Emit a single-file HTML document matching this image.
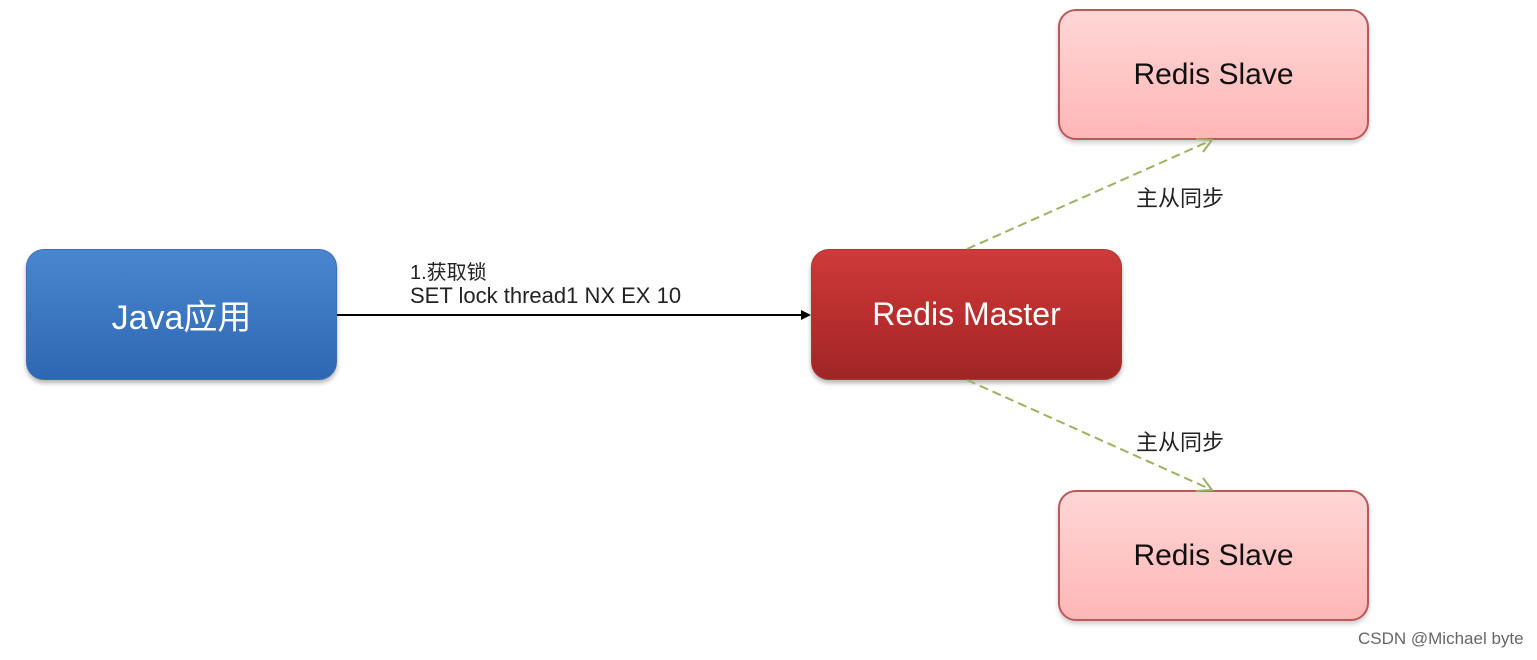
<!DOCTYPE html>
<html><head><meta charset="utf-8"><style>
html,body{margin:0;padding:0;background:#fff;}
body{width:1537px;height:660px;position:relative;overflow:hidden;font-family:"Liberation Sans","Noto Sans CJK SC",sans-serif;}
.box{position:absolute;border-radius:18px;display:flex;align-items:center;justify-content:center;box-sizing:border-box;}
.java{left:26px;top:249px;width:311px;height:131px;background:linear-gradient(#4a86d0,#2e67b3);border:1px solid #3b6fb5;color:#fff;font-size:34px;box-shadow:0 3px 5px rgba(0,0,0,.3);}
.master{left:811px;top:249px;width:311px;height:131px;background:linear-gradient(#cf3a3a,#b52c2c 60%,#9f2626);border:1px solid #b03434;color:#fff;font-size:32px;box-shadow:0 3px 5px rgba(0,0,0,.3);}
.slave{left:1058px;width:311px;height:131px;background:linear-gradient(#ffd6d6,#ffb6b6);border:2px solid #b85a5a;color:#111;font-size:30px;box-shadow:0 3px 5px rgba(0,0,0,.2);}
.t{position:absolute;font-size:22px;color:#222;white-space:nowrap;}
</style></head><body>
<div class="box java">Java应用</div>
<div class="box master">Redis Master</div>
<div class="box slave" style="top:9px">Redis Slave</div>
<div class="box slave" style="top:490px">Redis Slave</div>
<svg width="1537" height="660" style="position:absolute;left:0;top:0">
<line x1="337" y1="315" x2="803" y2="315" stroke="#000" stroke-width="2"/>
<polygon points="811,315 801,310 801,320" fill="#000"/>
<line x1="967" y1="249" x2="1212" y2="140" stroke="#9bb260" stroke-width="2" stroke-dasharray="9,5"/>
<polyline points="1196,139 1212,140 1203,152" fill="none" stroke="#9bb260" stroke-width="2"/>
<line x1="967" y1="380" x2="1212" y2="490" stroke="#9bb260" stroke-width="2" stroke-dasharray="9,5"/>
<polyline points="1203,478 1212,490 1196,491" fill="none" stroke="#9bb260" stroke-width="2"/>
</svg>
<div class="t" style="left:410px;top:256px;font-size:20px">1.获取锁</div>
<div class="t" style="left:410px;top:283px">SET lock thread1 NX EX 10</div>
<div class="t" style="left:1136px;top:181px">主从同步</div>
<div class="t" style="left:1136px;top:425px">主从同步</div>
<div class="t" style="left:1358px;top:629px;font-size:17px;color:#666">CSDN @Michael byte</div>
</body></html>
